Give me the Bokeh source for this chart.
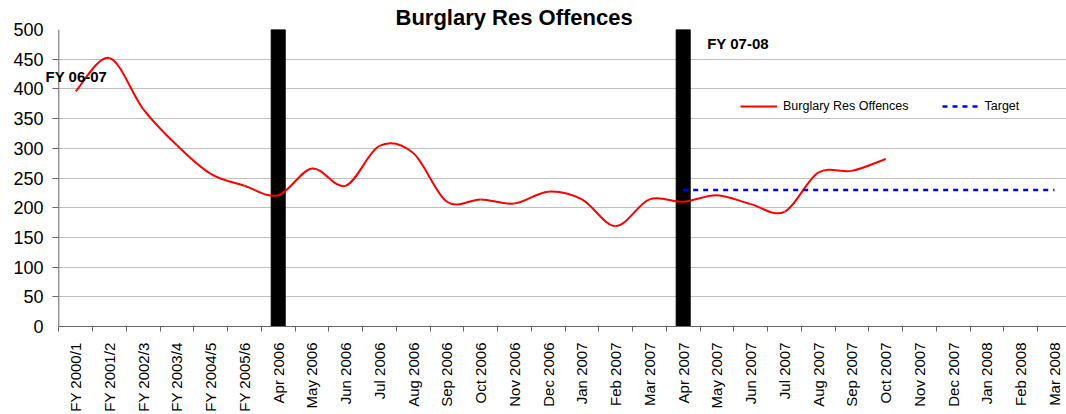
import math
from bokeh.plotting import figure
from bokeh.models import Range1d, FixedTicker, Label, Legend, LegendItem, Span, Grid
from bokeh.embed import file_html
from bokeh.resources import INLINE

# ---------------- data ----------------
categories = [
    "FY 2000/1", "FY 2001/2", "FY 2002/3", "FY 2003/4", "FY 2004/5", "FY 2005/6",
    "Apr 2006", "May 2006", "Jun 2006", "Jul 2006", "Aug 2006", "Sep 2006",
    "Oct 2006", "Nov 2006", "Dec 2006", "Jan 2007", "Feb 2007", "Mar 2007",
    "Apr 2007", "May 2007", "Jun 2007", "Jul 2007", "Aug 2007", "Sep 2007",
    "Oct 2007", "Nov 2007", "Dec 2007", "Jan 2008", "Feb 2008", "Mar 2008",
]
offences = [396, 452, 366, 305, 257, 237, 221, 266, 237, 304, 292, 210,
            214, 207, 227, 214, 169, 214, 210, 221, 206, 193, 259, 262, 282]
target_categories = ["Apr 2007", "May 2007", "Jun 2007", "Jul 2007", "Aug 2007", "Sep 2007",
                     "Oct 2007", "Nov 2007", "Dec 2007", "Jan 2008", "Feb 2008", "Mar 2008"]
target_values = [230, 230, 230, 230, 230, 230, 230, 230, 230, 230, 230, 230]
marker_categories = ["Apr 2006", "Apr 2007"]
marker_values = [500, 500]
y_ticks = [0, 50, 100, 150, 200, 250, 300, 350, 400, 450, 500]

FONT = "Liberation Sans"
AXIS_COL = "#666666"
X_START = -0.424   # frame starts a little left of the value axis
X_END = 29.857
TICK_LEN = -0.195  # value-axis tick stubs length (in category units)

idx = {c: i for i, c in enumerate(categories)}
def xc(c):
    return idx[c] + 0.5

p = figure(width=1066, height=414, output_backend="svg", toolbar_location=None,
           x_range=Range1d(X_START, X_END), y_range=Range1d(0, 500),
           title="Burglary Res Offences",
           min_border_left=44, min_border_right=0, min_border_top=29, min_border_bottom=87)
p.outline_line_color = None
p.background_fill_color = "white"
p.border_fill_color = "white"

p.title.text_font = FONT
p.title.text_font_size = "22px"
p.title.text_font_style = "bold"
p.title.text_color = "black"
p.title.align = "left"
p.title.offset = 351
p.title.standoff = 0

# grid
p.xgrid.visible = False
p.ygrid.ticker = FixedTicker(ticks=y_ticks)
p.ygrid.grid_line_color = "#c0c0c0"
p.ygrid.grid_line_width = 1
p.ygrid.cross_bounds = (0, X_END)
# dark tick stubs left of the value axis
stubs = Grid(dimension=1, ticker=FixedTicker(ticks=y_ticks), cross_bounds=(TICK_LEN, 0),
             grid_line_color=AXIS_COL, grid_line_width=1)
p.add_layout(stubs)

# value axis line
p.add_layout(Span(location=0, dimension="height", line_color=AXIS_COL, line_width=1))

# x axis: labels centred on categories, tick marks on boundaries
centers = [i + 0.5 for i in range(len(categories))]
bounds = [float(i) for i in range(len(categories))]
xa = p.xaxis[0]
xa.ticker = FixedTicker(ticks=centers, minor_ticks=bounds)
xa.major_label_overrides = {c: name for c, name in zip(centers, categories)}
xa.major_label_orientation = math.pi / 2
xa.bounds = (0, X_END)
xa.major_tick_out = 0
xa.major_tick_in = 0
xa.minor_tick_out = 5
xa.minor_tick_in = 0
xa.minor_tick_line_color = AXIS_COL
xa.axis_line_color = AXIS_COL
xa.major_label_standoff = 11
xa.major_label_text_font = FONT
xa.major_label_text_font_size = "15px"
xa.major_label_text_color = "black"

ya = p.yaxis[0]
ya.ticker = FixedTicker(ticks=y_ticks)
ya.major_tick_out = 0
ya.major_tick_in = 0
ya.minor_tick_out = 0
ya.minor_tick_in = 0
ya.axis_line_color = None
ya.major_tick_line_color = None
ya.major_label_standoff = 1
ya.major_label_text_font = FONT
ya.major_label_text_font_size = "18px"
ya.major_label_text_color = "black"

# black financial-year markers
p.vbar(x=[xc(c) for c in marker_categories], top=marker_values, bottom=0,
       width=0.415, fill_color="black", line_color="black")

# smoothed offences line (Catmull-Rom -> cubic Bezier through the data points)
xs = [xc(categories[i]) for i in range(len(offences))]
ys = offences
n = len(xs)
x0, y0, x1, y1, cx0, cy0, cx1, cy1 = [], [], [], [], [], [], [], []
for i in range(n - 1):
    pxm, pym = (xs[i - 1], ys[i - 1]) if i > 0 else (xs[i], ys[i])
    pxp, pyp = (xs[i + 2], ys[i + 2]) if i + 2 < n else (xs[i + 1], ys[i + 1])
    x0.append(xs[i]); y0.append(ys[i])
    x1.append(xs[i + 1]); y1.append(ys[i + 1])
    cx0.append(xs[i] + (xs[i + 1] - pxm) / 6.0)
    cy0.append(ys[i] + (ys[i + 1] - pym) / 6.0)
    cx1.append(xs[i + 1] - (pxp - xs[i]) / 6.0)
    cy1.append(ys[i + 1] - (pyp - ys[i]) / 6.0)
curve = p.bezier(x0=x0, y0=y0, x1=x1, y1=y1, cx0=cx0, cy0=cy0, cx1=cx1, cy1=cy1,
                 line_color="#ff0000", line_width=2)

target = p.line(x=[xc(c) for c in target_categories], y=target_values,
                line_color="#0000ff", line_width=2.5, line_dash="5 5")

legend = Legend(items=[LegendItem(label="Burglary Res Offences", renderers=[curve]),
                       LegendItem(label="Target", renderers=[target])],
                orientation="horizontal", location=(696, 213),
                padding=0, margin=0, spacing=33, label_standoff=6,
                glyph_width=37, glyph_height=14,
                border_line_color=None, background_fill_alpha=0,
                label_text_font=FONT, label_text_font_size="12.5px",
                label_text_color="black")
p.add_layout(legend, "center")

# annotations
p.add_layout(Label(x=45, y=76, x_units="canvas", y_units="canvas",
                   text="FY 06-07", text_font=FONT, text_font_size="15px",
                   text_font_style="bold", text_baseline="middle", text_align="left",
                   text_color="black"))
p.add_layout(Label(x=19.21, y=476, text="FY 07-08", text_font=FONT, text_font_size="15px",
                   text_font_style="bold", text_baseline="middle", text_align="left",
                   text_color="black"))

open("out.html", "w").write(file_html(p, INLINE))
